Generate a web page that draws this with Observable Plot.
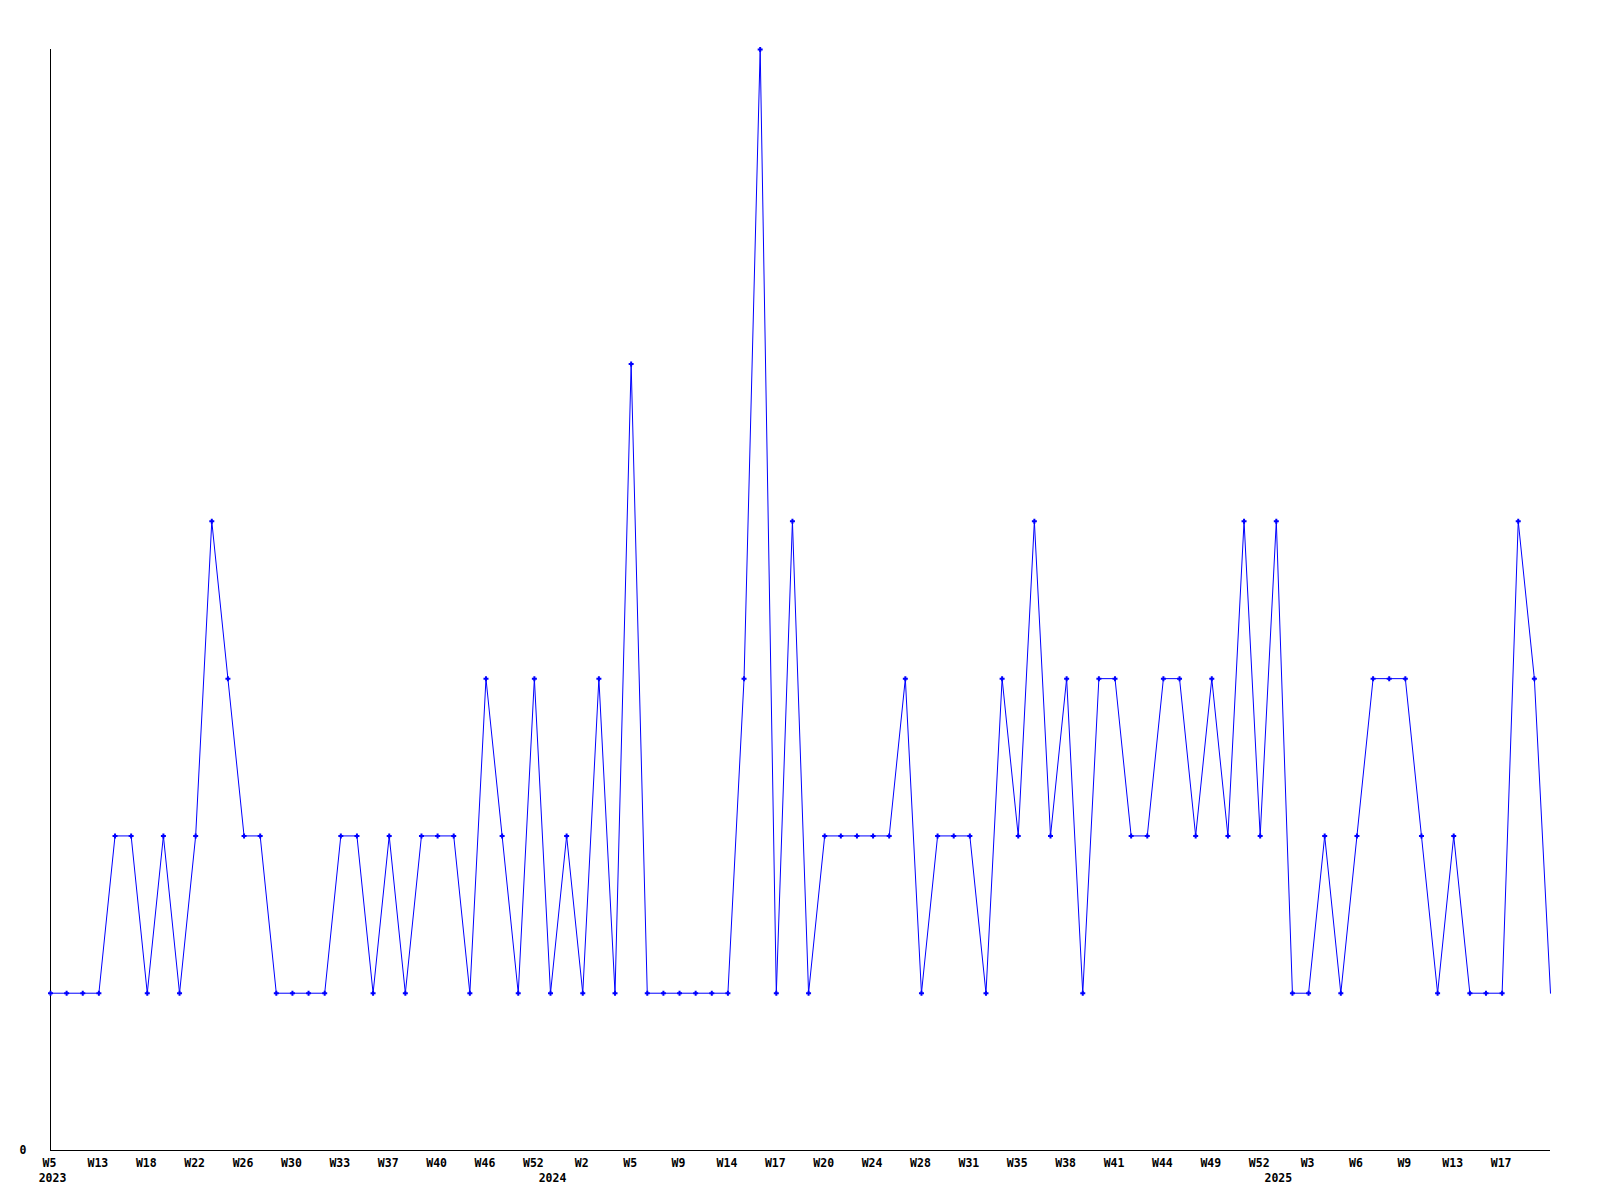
<!DOCTYPE html>
<html><head><meta charset="utf-8">
<script src="https://cdn.jsdelivr.net/npm/d3@7"></script>
<script src="https://cdn.jsdelivr.net/npm/@observablehq/plot@0.6"></script>
<style>html,body{margin:0;padding:0;background:#fff}</style>
</head><body><div id="chart"></div>
<script>
// Weekly counts, one per data point (weeks with data, in order)
const values = [
  1,1,1,1,2,2,1,2,1,2,
  4,3,2,2,1,1,1,1,2,2,
  1,2,1,2,2,2,1,3,2,1,
  3,1,2,1,3,1,5,1,1,1,
  1,1,1,3,7,1,4,1,2,2,
  2,2,2,3,1,2,2,2,1,3,
  2,4,2,3,1,3,3,2,2,3,
  3,2,3,2,4,2,4,1,1,2,
  1,2,3,3,3,2,1,2,1,1,
  1,4,3,1
];
// Labelled points (every third point) and their week labels
const weekTickIndex = [0,3,6,9,12,15,18,21,24,27,30,33,36,39,42,45,48,51,54,57,60,63,66,69,72,75,78,81,84,87,90];
const weekLabels = ["W5","W13","W18","W22","W26","W30","W33","W37","W40","W46","W52","W2","W5","W9","W14","W17","W20","W24","W28","W31","W35","W38","W41","W44","W49","W52","W3","W6","W9","W13","W17"];
// Year labels and the point where each year starts
const yearLabels = ["2023","2024","2025"];
const yearStartIndex = [0,31,76];
const yMax = 7;

const points = values.map((v, i) => ({i, v}));
const plusSymbol = {
  draw(ctx, size) {
    const r = Math.sqrt(size / Math.PI);
    ctx.moveTo(-r, 0); ctx.lineTo(r, 0);
    ctx.moveTo(0, -r); ctx.lineTo(0, r);
  }
};
const font = "'DejaVu Sans Mono', monospace";

const chart = Plot.plot({
  width: 1600,
  height: 1200,
  marginTop: 49,
  marginBottom: 50,
  marginLeft: 50,
  marginRight: 50,
  style: {fontFamily: font, fontSize: "11.5px", fontWeight: "bold", color: "#000", background: "#fff"},
  x: {type: "linear", domain: [0, values.length - 1], label: null},
  y: {domain: [0, yMax], label: null},
  marks: [
    Plot.axisX({
      ticks: weekTickIndex,
      tickFormat: t => weekLabels[weekTickIndex.indexOf(t)],
      tickSize: 0, tickPadding: 8, dx: -1, label: null,
      fontWeight: "bold", fill: "#000"
    }),
    Plot.axisY({
      ticks: [0], tickFormat: d => String(d),
      tickSize: 0, tickPadding: 24, label: null,
      fontWeight: "bold", fill: "#000"
    }),
    Plot.text(yearLabels, {
      x: (d, k) => yearStartIndex[k], y: () => 0,
      text: d => d, dy: 23, dx: 2, lineAnchor: "top",
      fontWeight: "bold", fill: "#000"
    }),
    Plot.ruleX([0], {stroke: "#000"}),
    Plot.ruleY([0], {stroke: "#000"}),
    Plot.line(points, {x: "i", y: "v", stroke: "#0000ff", strokeWidth: 1}),
    Plot.dot(points.slice(0, -1), {x: "i", y: "v", symbol: plusSymbol, r: 2.5, fill: "none", stroke: "#0000ff", strokeWidth: 2})
  ]
});
document.getElementById("chart").appendChild(chart);
</script>
</body></html>
